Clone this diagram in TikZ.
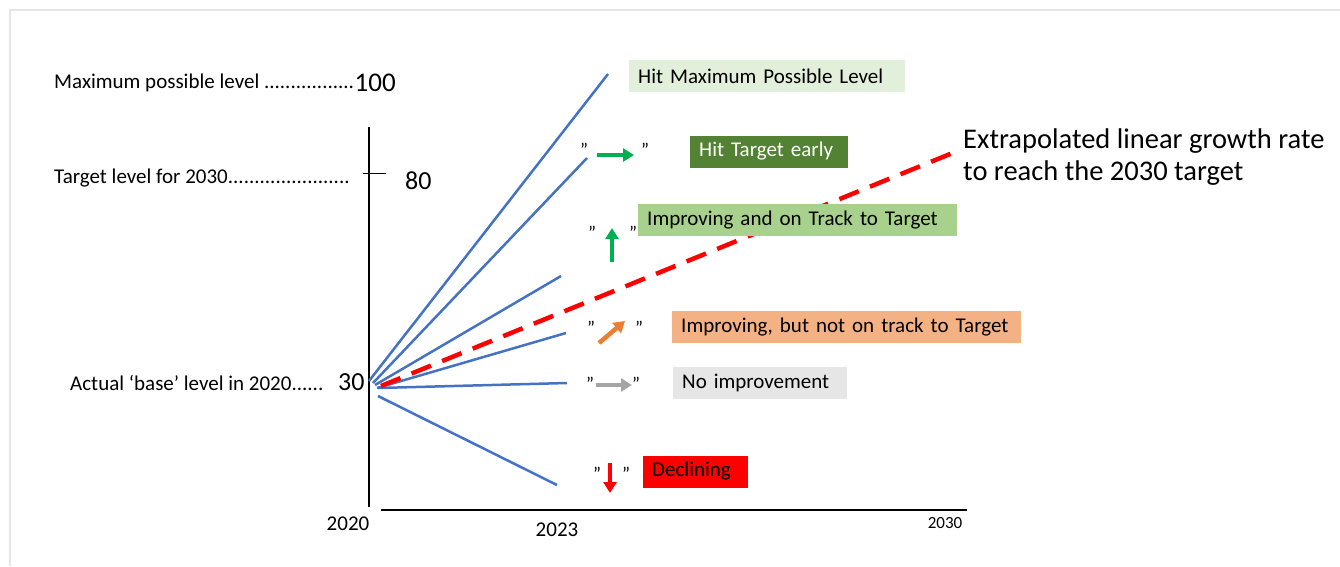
\documentclass[tikz,border=0pt]{standalone}
\usepackage{fontspec}
\setmainfont{Carlito}
\usetikzlibrary{arrows.meta}
\definecolor{lineblue}{RGB}{68,114,196}
\definecolor{palegreen}{RGB}{226,239,218}
\definecolor{darkgreen}{RGB}{84,130,53}
\definecolor{midgreen}{RGB}{169,209,142}
\definecolor{peach}{RGB}{244,177,131}
\definecolor{lightgrey}{RGB}{231,230,230}
\definecolor{arrowgreen}{RGB}{0,176,80}
\definecolor{arroworange}{RGB}{237,125,49}
\definecolor{arrowgrey}{RGB}{165,165,165}

\begin{document}
\begin{tikzpicture}[x=1pt,y=-1pt,font=\fontsize{21}{25}\selectfont]
  \tikzstyle{label}=[anchor=west,inner sep=0pt]
  \tikzstyle{status}=[anchor=west,minimum height=32pt,inner xsep=9pt,inner ysep=0pt,align=left]
  \tikzstyle{trend}=[draw=lineblue,line width=2.5pt]
  \tikzstyle{sign}=[line width=4.5pt,-{Triangle[width=13pt,length=11pt]}]
  \tikzstyle{quote}=[inner sep=0pt,font=\fontsize{19}{22}\selectfont]

  \useasboundingbox (0,0) rectangle (1340,566);
  \draw[gray!20,line width=1.5pt] (10,566) -- (10,10) -- (1340,10);

  \draw[line width=2.5pt] (369,127) -- (369,507);
  \draw[line width=2.5pt] (381,510) -- (967,510);
  \draw (363,173) -- (386,173);

  \node [label] (max) at (54,83) {Maximum possible level .................};
  \node [label,font=\fontsize{27}{30}\selectfont] (v100) at (max.east) {100};
  \node [label] (target) at (54,178) {Target level for 2030.......................};
  \node [label,font=\fontsize{26}{30}\selectfont] (v80) at (405,181) {80};
  \node [label] (base) at (70,383) {Actual `base' level in 2020......};
  \node [label,font=\fontsize{26}{30}\selectfont] (v30) at (338,382) {30};

  \node (y2020) at (348,524) {2020};
  \node (y2023) at (557,530) {2023};
  \node [font=\fontsize{17}{20}\selectfont] (y2030) at (945,523) {2030};

  \coordinate (s1) at (369,381);
  \coordinate (s2) at (373,383);
  \coordinate (s3) at (375,385);
  \coordinate (s4) at (377,388);
  \coordinate (s5) at (378,388);
  \coordinate (s6) at (378,396);
  \coordinate (e1) at (608,74);
  \coordinate (e2) at (587,158);
  \coordinate (e3) at (561,276);
  \coordinate (e4) at (566,333);
  \coordinate (e5) at (567,383);
  \coordinate (e6) at (557,485);
  \draw [trend] (s1) -- (e1);
  \draw [trend] (s2) -- (e2);
  \draw [trend] (s3) -- (e3);
  \draw [trend] (s4) -- (e4);
  \draw [trend] (s5) -- (e5);
  \draw [trend] (s6) -- (e6);

  \coordinate (r0) at (381,386);
  \coordinate (r1) at (955,152);
  \draw [red,line width=4.5pt,dash pattern=on 21pt off 12pt] (r0) -- (r1);
  \node [label,align=left,font=\fontsize{28.5}{32}\selectfont] (extra) at (963,157)
    {Extrapolated linear growth rate\\to reach the 2030 target};

  \node [status,fill=palegreen,text width=258pt] (hitmax) at (629,76) {Hit Maximum Possible Level};
  \node [status,fill=darkgreen,text=white,text width=140pt] (early) at (690,151.5) {Hit Target early};
  \node [status,fill=midgreen,text width=301pt] (ontrack) at (638,220) {Improving and on Track to Target};
  \node [status,fill=peach,text width=331pt] (offtrack) at (672,327) {Improving, but not on track to Target};
  \node [status,fill=lightgrey,text width=156pt] (flat) at (673,382.5) {No improvement};
  \node [status,fill=red,text width=87pt] (decline) at (643,471.5) {Declining};

  \node [quote] (q1a) at (584,150) {"};
  \node [quote] (q1b) at (645,150) {"};
  \draw [sign,arrowgreen] (597,155) -- (634,155);
  \node [quote] (q2a) at (592,233) {"};
  \node [quote] (q2b) at (633,233) {"};
  \draw [sign,arrowgreen] (612,262) -- (612,228);
  \node [quote] (q3a) at (591,328) {"};
  \node [quote] (q3b) at (639,328) {"};
  \draw [sign,arroworange] (599,343) -- (625,321);
  \node [quote] (q4a) at (590,384) {"};
  \node [quote] (q4b) at (636,384) {"};
  \draw [sign,arrowgrey] (596,385) -- (632,385);
  \node [quote] (q5a) at (597,474) {"};
  \node [quote] (q5b) at (626,474) {"};
  \draw [sign,red] (610,463) -- (610,493);
\end{tikzpicture}
\end{document}
